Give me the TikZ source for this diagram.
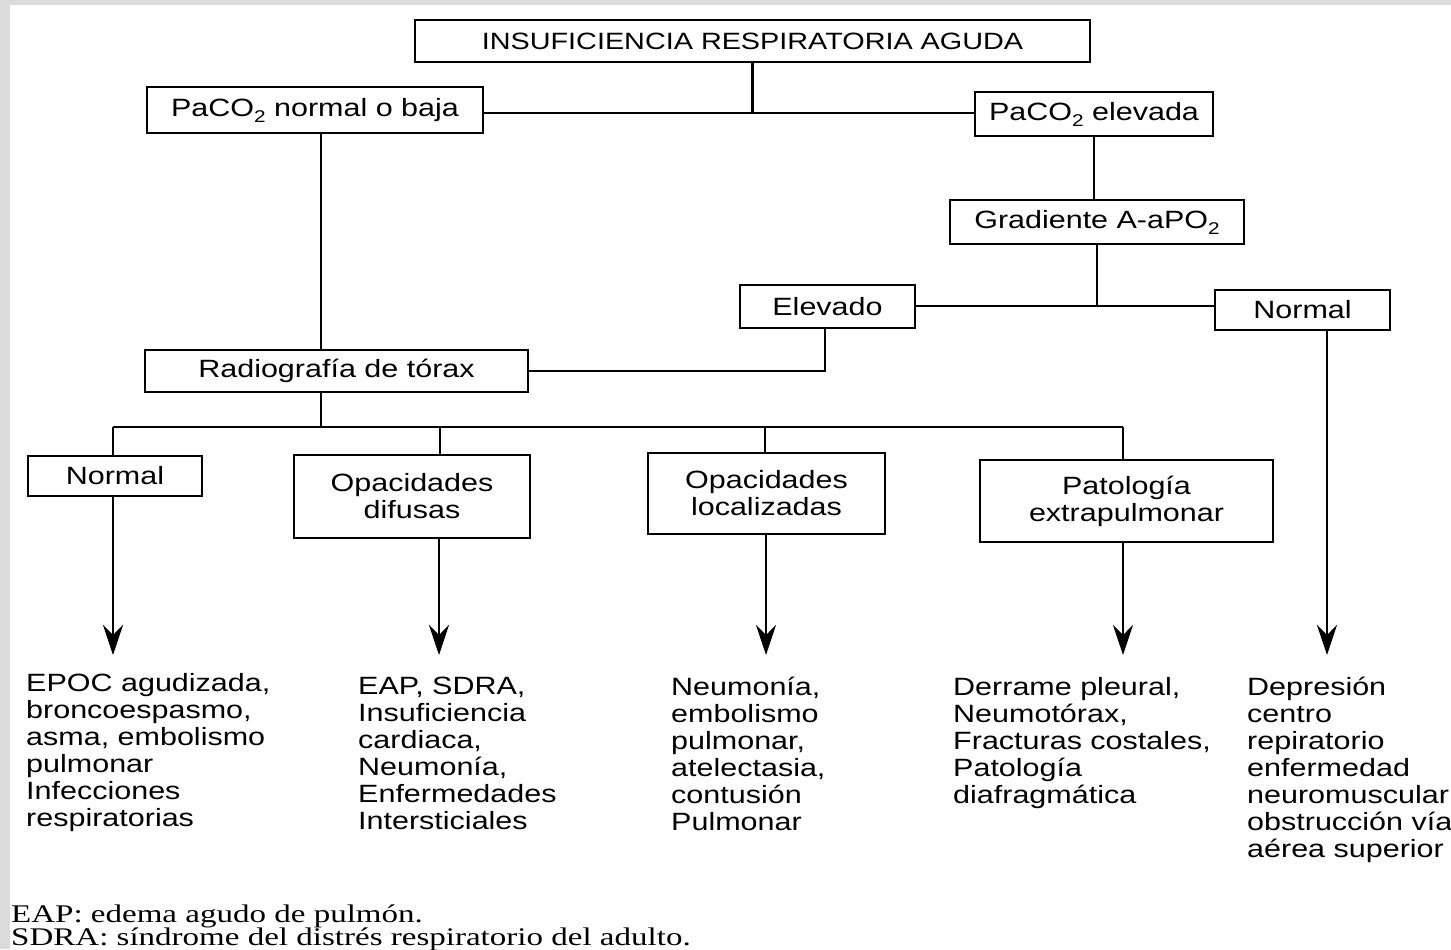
\documentclass[tikz,border=0pt]{standalone}
\usepackage{fontspec}
\newfontfamily\sfx{Liberation Sans}[FakeStretch=1.22]
\newfontfamily\rmx{Liberation Serif}[FakeStretch=1.3]
\usetikzlibrary{arrows.meta}
\newcommand{\two}{\raisebox{-0.45ex}{\fontsize{8.5}{8.5}\selectfont 2}}
\begin{document}
\begin{tikzpicture}[x=0.5pt,y=-0.5pt,
  line width=1.2pt,
  box/.style={draw, line width=1.2pt, inner sep=0pt, align=center, font=\sfx\fontsize{12.5}{13.5}\selectfont},
  txt/.style={anchor=north west, inner sep=0pt, align=left, font=\sfx\fontsize{12.5}{13.5}\selectfont},
  link/.style={line width=1.2pt},
  arr/.style={line width=1.2pt, -{Stealth[length=15pt,width=10pt,inset=5pt]}},
  note/.style={anchor=base west, inner sep=0pt, font=\rmx\fontsize{12.7}{13}\selectfont}]
\useasboundingbox (0,0) rectangle (1451,949);
\fill[black!14] (0,0) rectangle (1451,949);
\fill[white] (10,5) rectangle (1451,949);

% boxes
\node[box, minimum width=337.5pt, minimum height=21pt, font=\sfx\fontsize{11.8}{13.5}\selectfont] (top) at (752.5,41) {INSUFICIENCIA RESPIRATORIA AGUDA};
\node[box, minimum width=168pt, minimum height=23pt] (pn) at (315,110) {PaCO\two{} normal o baja};
\node[box, minimum width=119pt, minimum height=22pt] (pe) at (1094,114) {PaCO\two{} elevada};
\node[box, minimum width=147pt, minimum height=22pt] (grad) at (1097,222) {Gradiente A-aPO\two};
\node[box, minimum width=87.5pt, minimum height=21.5pt] (elev) at (827.5,306.5) {Elevado};
\node[box, minimum width=87.5pt, minimum height=20pt] (nr) at (1302.5,310) {Normal};
\node[box, minimum width=191.5pt, minimum height=21pt] (rad) at (336.5,371) {Radiografía de tórax};
\node[box, minimum width=87pt, minimum height=20pt] (n1) at (115,476) {Normal};
\node[box, minimum width=118pt, minimum height=41.5pt] (od) at (412,496.5) {Opacidades\\difusas};
\node[box, minimum width=118.5pt, minimum height=40.5pt] (ol) at (766.5,493.5) {Opacidades\\localizadas};
\node[box, minimum width=146.5pt, minimum height=41pt] (pat) at (1126.5,501) {Patología\\extrapulmonar};

% connectors
\coordinate (j1) at (752.5,113);
\draw[link] (top.south) -- (j1);
\draw[link] (pn.east |- j1) -- (pe.west |- j1);
\coordinate (v1) at (321,0);
\draw[link] (pn.south -| v1) -- (rad.north -| v1);
\draw[link] (pe.south) -- (pe.south |- grad.north);
\coordinate (j2) at (1097,306);
\draw[link] (grad.south) -- (j2);
\draw[link] (elev.east |- j2) -- (nr.west |- j2);
\coordinate (v2) at (825,0);
\draw[link] (elev.south -| v2) |- (rad.east);
\coordinate (ha) at (113,427);
\coordinate (hb) at (1123,427);
\draw[link] (rad.south -| v1) -- (v1 |- ha);
\draw[link] (ha) -- (hb);
\coordinate (xa) at (440,0);
\coordinate (xb) at (765,0);
\draw[link] (ha) -- (ha |- n1.north);
\draw[link] (xa |- ha) -- (xa |- od.north);
\draw[link] (xb |- ha) -- (xb |- ol.north);
\draw[link] (hb) -- (hb |- pat.north);

% arrows
\coordinate (e1) at (113,655);
\coordinate (e2) at (439,655);
\coordinate (e3) at (766,655);
\coordinate (e4) at (1123,655);
\coordinate (e5) at (1327,655);
\draw[arr] (n1.south -| e1) -- (e1);
\draw[arr] (od.south -| e2) -- (e2);
\draw[arr] (ol.south -| e3) -- (e3);
\draw[arr] (pat.south -| e4) -- (e4);
\draw[arr] (nr.south -| e5) -- (e5);

% outcome texts
\node[txt] (t1) at (25,672) {EPOC agudizada,\\broncoespasmo,\\asma, embolismo\\pulmonar\\Infecciones\\respiratorias};
\node[txt] (t2) at (357,676) {EAP, SDRA,\\Insuficiencia\\cardiaca,\\Neumonía,\\Enfermedades\\Intersticiales};
\node[txt] (t3) at (670,676) {Neumonía,\\embolismo\\pulmonar,\\atelectasia,\\contusión\\Pulmonar};
\node[txt] (t4) at (952,676) {Derrame pleural,\\Neumotórax,\\Fracturas costales,\\Patología\\diafragmática};
\node[txt] (t5) at (1246,676) {Depresión\\centro\\repiratorio\\enfermedad\\neuromuscular\\obstrucción vía\\aérea superior};

% footnotes
\node[note] (fn1) at (10,922) {EAP: edema agudo de pulmón.};
\node[note] (fn2) at (10,945) {SDRA: síndrome del distrés respiratorio del adulto.};
\end{tikzpicture}
\end{document}
